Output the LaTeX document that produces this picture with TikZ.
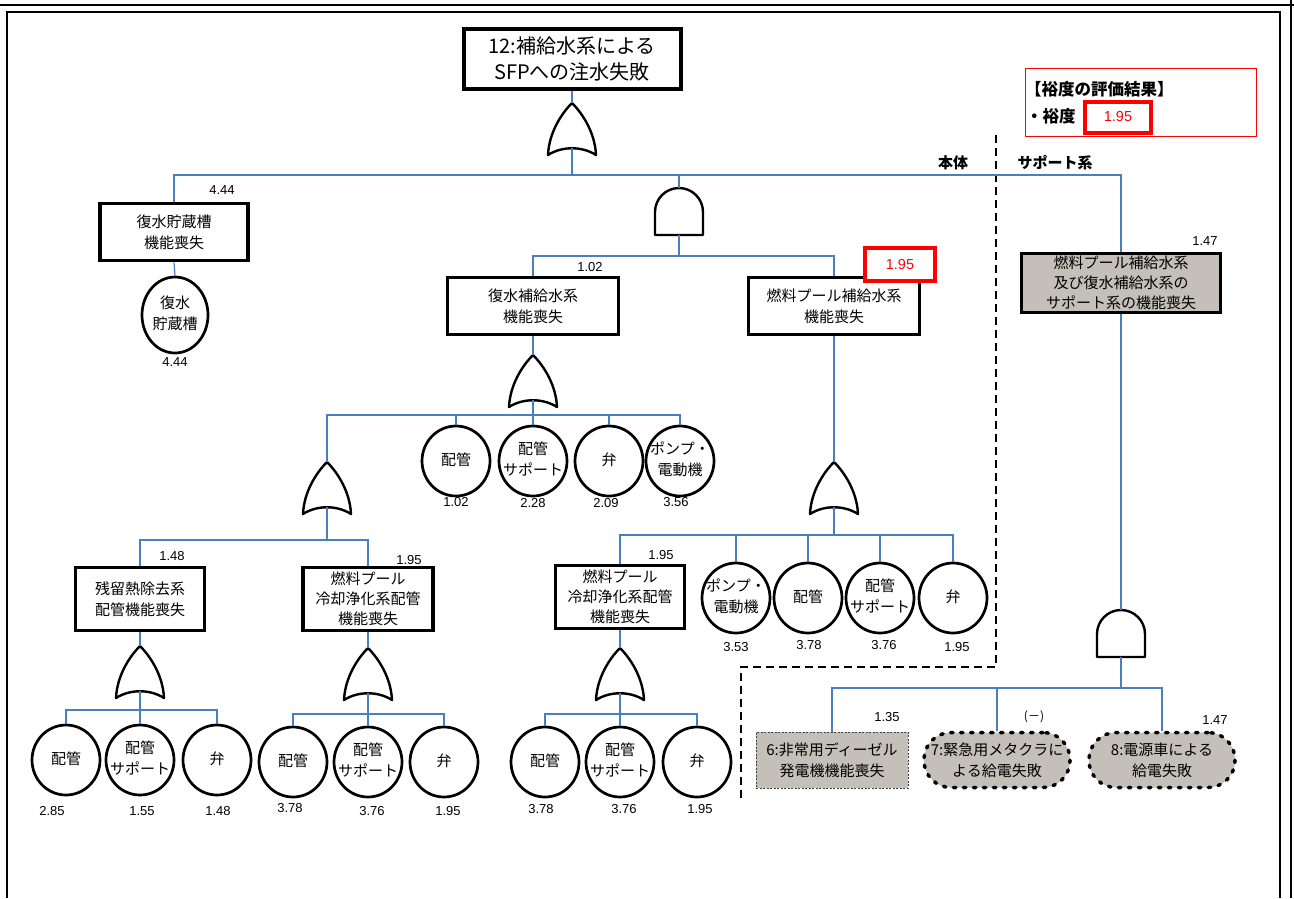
\documentclass[tikz,border=0pt]{standalone}
\usepackage{fontspec}
\setmainfont{Noto Sans CJK JP}
\newfontfamily\numfont{Liberation Sans}
\usetikzlibrary{shapes.geometric, positioning, calc}
\definecolor{linkblue}{RGB}{74,126,190}
\definecolor{evgray}{RGB}{196,192,185}
\newcommand{\zw}[1]{\makebox[0pt]{\begin{tabular}{@{}c@{}}#1\end{tabular}}}

\begin{document}
\begin{tikzpicture}[x=1pt, y=-1pt,
    link/.style={draw=linkblue, line width=1.2pt},
    gatepen/.style={draw=black, line width=2.4pt, line join=round, fill=white},
    orgate/.pic={
      \draw[gatepen] (0,0) .. controls (-11,11) and (-23,30) .. (-24,52) .. controls (-10,43) and (10,43) .. (24,52) .. controls (23,30) and (11,11) .. (0,0) -- cycle;
      \coordinate (-top) at (0,0);
      \coordinate (-bot) at (0,45);
    },
    andgate/.pic={
      \draw[gatepen] (-24,47) -- (-24,24) arc[start angle=180, end angle=360, radius=24] -- (24,47) -- cycle;
      \coordinate (-top) at (0,0);
      \coordinate (-bot) at (0,47);
    },
    topev/.style={rectangle, draw, line width=4pt, fill=white, inner sep=0pt, align=center, font=\fontsize{20}{26}\selectfont},
    midev/.style={rectangle, draw, line width=3.8pt, fill=white, inner sep=0pt, align=center, font=\fontsize{15}{21}\selectfont},
    deepev/.style={midev, font=\fontsize{15}{20}\selectfont},
    supev/.style={midev, fill=evgray, font=\fontsize{15}{20}\selectfont},
    basic/.style={ellipse, draw, line width=2.7pt, fill=white, minimum width=68pt, minimum height=70pt, inner sep=0pt, font=\fontsize{15}{21}\selectfont},
    dgev/.style={rectangle, draw=black!75, line width=1pt, dash pattern=on 2pt off 1.5pt, fill=evgray, inner sep=0pt, align=center, minimum width=152pt, minimum height=56pt, font=\fontsize{15}{21}\selectfont},
    extev/.style={rectangle, rounded corners=27pt, draw, line width=3.5pt, dash pattern=on 2.5pt off 7.5pt, line cap=round, fill=evgray, inner sep=0pt, align=center, minimum width=146pt, minimum height=55pt, font=\fontsize{15}{21}\selectfont},
    num/.style={inner sep=0pt, font=\numfont\fontsize{13}{15}\selectfont},
    rednum/.style={rectangle, draw=red, line width=4pt, fill=white, text=red, inner sep=0pt, font=\numfont\fontsize{14.5}{16}\selectfont},
    divider/.style={draw=black, line width=1.3pt, dash pattern=on 8pt off 5pt},
    side/.style={inner sep=0pt, font=\bfseries\fontsize{15}{18}\selectfont}]

    \useasboundingbox (0,0) rectangle (1294,898);

    % page frame
    \draw[line width=2pt] (0,5) -- (1294,5);
    \draw[line width=1.2pt] (7,898) -- (7,12) -- (1280,12) -- (1280,898);
    \draw[line width=1.5pt] (1291,0) -- (1291,898);

    % top event
    \node [topev, minimum width=217pt, minimum height=60pt] (top) at (572,59) {12:補給水系による\\SFPへの注水失敗};
    \pic (g0) at (572,103) {orgate};
    \coordinate (b0) at (572,175);

    % condensate storage tank
    \node [midev, minimum width=148pt, minimum height=57pt] (cst) at (174,232) {復水貯蔵槽\\機能喪失};
    \node [basic, minimum width=66pt, minimum height=76pt] (cstt) at (175,315) {\zw{復水\\貯蔵槽}};
    \node [num] (v_cst) at (222,190) {4.44};
    \node [num] (v_cstt) at (175,362) {4.44};

    % make-up water systems
    \pic (g1) at (679,188) {andgate};
    \coordinate (b1) at (679,256);
    \node [midev, minimum width=171pt, minimum height=57pt] (mkw) at (533,306) {復水補給水系\\機能喪失};
    \node [midev, minimum width=171pt, minimum height=57pt] (fpw) at (834,306) {燃料プール補給水系\\機能喪失};
    \node [num] (v_mkw) at (590,267) {1.02};
    \node [rednum, minimum width=70pt, minimum height=33pt] (v_fpw) at (900,264.5) {1.95};

    % condensate make-up branch
    \pic (g2) at (533,355) {orgate};
    \coordinate (b2) at (533,415);
    \node [basic] (mkw_p) at (456,461) {\zw{配管}};
    \node [basic] (mkw_s) at (533,461) {\zw{配管\\サポート}};
    \node [basic] (mkw_v) at (609,461) {\zw{弁}};
    \node [basic] (mkw_m) at (680,461) {\zw{ポンプ・\\電動機}};
    \node [num] (v_mkw_p) at (456,502) {1.02};
    \node [num] (v_mkw_s) at (533,503) {2.28};
    \node [num] (v_mkw_v) at (606,503) {2.09};
    \node [num] (v_mkw_m) at (676,502) {3.56};

    \pic (g3) at (327,462) {orgate};
    \coordinate (b3) at (327,540);
    \node [midev, minimum width=129pt, minimum height=63pt] (rhr) at (140,599) {残留熱除去系\\配管機能喪失};
    \node [deepev, minimum width=130pt, minimum height=63pt] (fpc1) at (368,599) {燃料プール\\冷却浄化系配管\\機能喪失};
    \node [num] (v_rhr) at (172,556) {1.48};
    \node [num] (v_fpc1) at (409,560) {1.95};

    \pic (g4) at (140,646) {orgate};
    \coordinate (b4) at (140,710);
    \node [basic] (rhr_p) at (66,760) {\zw{配管}};
    \node [basic] (rhr_s) at (140,760) {\zw{配管\\サポート}};
    \node [basic] (rhr_v) at (217,760) {\zw{弁}};
    \node [num] (v_rhr_p) at (52,811) {2.85};
    \node [num] (v_rhr_s) at (142,811) {1.55};
    \node [num] (v_rhr_v) at (218,811) {1.48};

    \pic (g5) at (368,648) {orgate};
    \coordinate (b5) at (368,714);
    \node [basic] (fpc1_p) at (293,762) {\zw{配管}};
    \node [basic] (fpc1_s) at (368,762) {\zw{配管\\サポート}};
    \node [basic] (fpc1_v) at (444,762) {\zw{弁}};
    \node [num] (v_fpc1_p) at (290,808) {3.78};
    \node [num] (v_fpc1_s) at (372,811) {3.76};
    \node [num] (v_fpc1_v) at (448,811) {1.95};

    % fuel pool make-up branch
    \pic (g6) at (834,462) {orgate};
    \coordinate (b6) at (834,535);
    \node [deepev, minimum width=129pt, minimum height=63pt] (fpc2) at (620,597) {燃料プール\\冷却浄化系配管\\機能喪失};
    \node [basic] (fpw_m) at (736,598) {\zw{ポンプ・\\電動機}};
    \node [basic] (fpw_p) at (808,598) {\zw{配管}};
    \node [basic] (fpw_s) at (880,598) {\zw{配管\\サポート}};
    \node [basic] (fpw_v) at (953,598) {\zw{弁}};
    \node [num] (v_fpc2) at (661,555) {1.95};
    \node [num] (v_fpw_m) at (736,647) {3.53};
    \node [num] (v_fpw_p) at (809,645) {3.78};
    \node [num] (v_fpw_s) at (884,645) {3.76};
    \node [num] (v_fpw_v) at (957,647) {1.95};

    \pic (g7) at (620,648) {orgate};
    \coordinate (b7) at (620,714);
    \node [basic] (fpc2_p) at (545,762) {\zw{配管}};
    \node [basic] (fpc2_s) at (620,762) {\zw{配管\\サポート}};
    \node [basic] (fpc2_v) at (697,762) {\zw{弁}};
    \node [num] (v_fpc2_p) at (541,809) {3.78};
    \node [num] (v_fpc2_s) at (624,809) {3.76};
    \node [num] (v_fpc2_v) at (700,809) {1.95};

    % support systems
    \node [supev, minimum width=199pt, minimum height=59pt] (sup) at (1121,283) {燃料プール補給水系\\及び復水補給水系の\\サポート系の機能喪失};
    \node [num] (v_sup) at (1205,241) {1.47};
    \pic (g8) at (1121,610) {andgate};
    \coordinate (b8) at (1121,688);
    \node [dgev] (dg6) at (832,760) {6:非常用ディーゼル\\発電機機能喪失};
    \node [extev] (mc7) at (997,760) {7:緊急用メタクラに\\よる給電失敗};
    \node [extev] (pv8) at (1162,760) {8:電源車による\\給電失敗};
    \node [num] (v_dg6) at (887,717) {1.35};
    \node [num, font=\fontsize{12}{14}\selectfont] (v_mc7) at (1034,717) {(－)};
    \node [num] (v_pv8) at (1215,720) {1.47};

    % divider between main body and support
    \draw [divider] (996,135) -- (996,667) -- (741,667) -- (741,800);
    \node [side] (lbl_body) at (953,163) {本体};
    \node [side] (lbl_sup) at (1055,163) {サポート系};

    % evaluation result
    \node [rectangle, draw=red, line width=1pt, minimum width=231pt, minimum height=68pt] (res) at (1141,102.5) {};
    \node [side, anchor=west, font=\bfseries\fontsize{16.5}{18}\selectfont] (res_t) at (1025,89) {【裕度の評価結果】};
    \node [side, anchor=west, font=\bfseries\fontsize{16.5}{18}\selectfont] (res_m) at (1026,116) {・裕度};
    \node [rednum, minimum width=66pt, minimum height=31pt] (res_v) at (1118,117) {1.95};

    % connectors
    \path [link] (top.south) -- (g0-top);
    \path [link] (g0-bot) -- (b0);
    \path [link] (b0) -| (cst.north);
    \path [link] (b0) -| (g1-top);
    \path [link] (b0) -| (sup.north);
    \path [link] (cst.south) -- (cstt.north);

    \path [link] (g1-bot) -- (b1);
    \path [link] (b1) -| (mkw.north);
    \path [link] (b1) -| (fpw.north);

    \path [link] (mkw.south) -- (g2-top);
    \path [link] (g2-bot) -- (b2);
    \path [link] (b2) -| (g3-top);
    \path [link] (b2) -| (mkw_p.north);
    \path [link] (b2) -- (mkw_s.north);
    \path [link] (b2) -| (mkw_v.north);
    \path [link] (b2) -| (mkw_m.north);

    \path [link] (g3-bot) -- (b3);
    \path [link] (b3) -| (rhr.north);
    \path [link] (b3) -| (fpc1.north);

    \path [link] (rhr.south) -- (g4-top);
    \path [link] (g4-bot) -- (b4);
    \path [link] (b4) -| (rhr_p.north);
    \path [link] (b4) -- (rhr_s.north);
    \path [link] (b4) -| (rhr_v.north);

    \path [link] (fpc1.south) -- (g5-top);
    \path [link] (g5-bot) -- (b5);
    \path [link] (b5) -| (fpc1_p.north);
    \path [link] (b5) -- (fpc1_s.north);
    \path [link] (b5) -| (fpc1_v.north);

    \path [link] (fpw.south) -- (g6-top);
    \path [link] (g6-bot) -- (b6);
    \path [link] (b6) -| (fpc2.north);
    \path [link] (b6) -| (fpw_m.north);
    \path [link] (b6) -| (fpw_p.north);
    \path [link] (b6) -| (fpw_s.north);
    \path [link] (b6) -| (fpw_v.north);

    \path [link] (fpc2.south) -- (g7-top);
    \path [link] (g7-bot) -- (b7);
    \path [link] (b7) -| (fpc2_p.north);
    \path [link] (b7) -- (fpc2_s.north);
    \path [link] (b7) -| (fpc2_v.north);

    \path [link] (sup.south) -- (g8-top);
    \path [link] (g8-bot) -- (b8);
    \path [link] (b8) -| (dg6.north);
    \path [link] (b8) -| (mc7.north);
    \path [link] (b8) -| (pv8.north);
\end{tikzpicture}
\end{document}
